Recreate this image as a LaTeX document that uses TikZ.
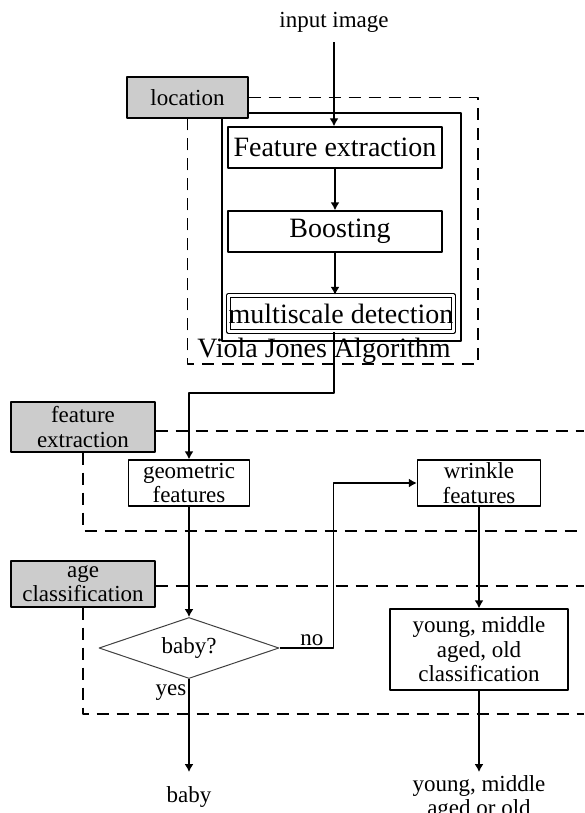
\documentclass[tikz,border=0pt]{standalone}
\usepackage{fontspec}
\setmainfont{Liberation Serif}
\usetikzlibrary{shapes.geometric,arrows.meta}
\newcommand\smallfont{\fontsize{11.5}{12.2}\selectfont}
\newcommand\largefont{\fontsize{14}{16}\selectfont}
\begin{document}
\begin{tikzpicture}[x=0.5pt, y=-0.5pt, line join=round, >={Latex[length=4pt,width=4.5pt]},
	box/.style={draw, line width=0.7pt, inner sep=0pt, align=center, font=\smallfont},
	bigbox/.style={box, font=\largefont, minimum width=107pt, minimum height=20.5pt},
	tag/.style={box, fill=black!20, minimum width=72pt},
	zone/.style={dash pattern=on 6pt off 4pt, line width=0.65pt},
	txt/.style={inner sep=0pt, align=center, font=\smallfont},
	link/.style={->, line width=0.7pt}]
	\useasboundingbox (0,0) rectangle (584,813);
	\coordinate (edge) at (584,0);
	% location
	\node[txt] (input) at (334,22) {input image};
	\node[draw, line width=0.7pt, minimum width=119.5pt, minimum height=114pt] (vj) at (341.5,227) {};
	\node[bigbox] (fx) at (335,147.5) {Feature extraction};
	\node[bigbox] (boost) at (335,231.5) {\hspace*{5pt}Boosting};
	\node[bigbox, double, double distance=1.2pt, minimum width=112.6pt, minimum height=18pt] (ms) at (341,313.5) {multiscale detection};
	\node[txt, font=\largefont] (vjname) at (324,351) {Viola Jones Algorithm};
	\node[tag, minimum width=60.5pt, minimum height=20.5pt] (loc) at (187.5,97.5) {location};
	\draw[zone] (loc.east) -- (478,97.5) -- (478,364) -| (loc.south);
	\draw[link, shorten <=5pt] (input.south) -- (input.south |- fx.north);
	\draw[link] (fx.south) -- (boost.north);
	\draw[link] (boost.south) -- (boost.south |- ms.north);
	% feature extraction
	\node[tag, minimum height=25pt] (fe) at (83,427) {feature\\extraction};
	\draw[zone] (fe.east |- 0,431) -- (edge |- 0,431);
	\draw[zone] (fe.south) |- (584,531);
	\node[box, minimum width=60.5pt, minimum height=23pt] (geo) at (189,483) {geometric\\features};
	\node[box, minimum width=61.5pt, minimum height=23pt] (wr) at (479,483) {wrinkle\\features};
	\coordinate (split) at (334,393);
	\draw[link] (split |- ms.south) -- (split) -| (geo.north);
	% age classification
	\node[tag, minimum height=23pt] (age) at (83,584) {age\\classification};
	\draw[zone] (age.east |- 0,586) -- (edge |- 0,586);
	\draw[zone] (age.south) |- (584,714);
	\node[diamond, draw=black!75, line width=0.5pt, aspect=3, inner sep=0pt, minimum width=90pt, minimum height=30.5pt, font=\smallfont] (dec) at (189,648) {baby?};
	\node[box, minimum width=89pt, minimum height=40.5pt] (cls) at (479,649.5) {young, middle\\aged, old\\classification};
	\node[txt, anchor=north, inner sep=7pt] (baby) at (189,772) {baby};
	\node[txt, anchor=north, inner sep=1.5pt] (out) at (479,772) {young, middle\\aged or old};
	\draw[link] (geo.south) -- (dec.north);
	\draw[link] (dec.east) -- node[txt, above, pos=0.6, inner sep=1pt] {no} ++(54,0) |- (wr.west);
	\draw[link] (dec.south) -- node[txt, left, pos=0.15, inner sep=1pt] {yes} (baby.north);
	\draw[link] (wr.south) -- (cls.north);
	\draw[link] (cls.south) -- (out.north);
\end{tikzpicture}
\end{document}
